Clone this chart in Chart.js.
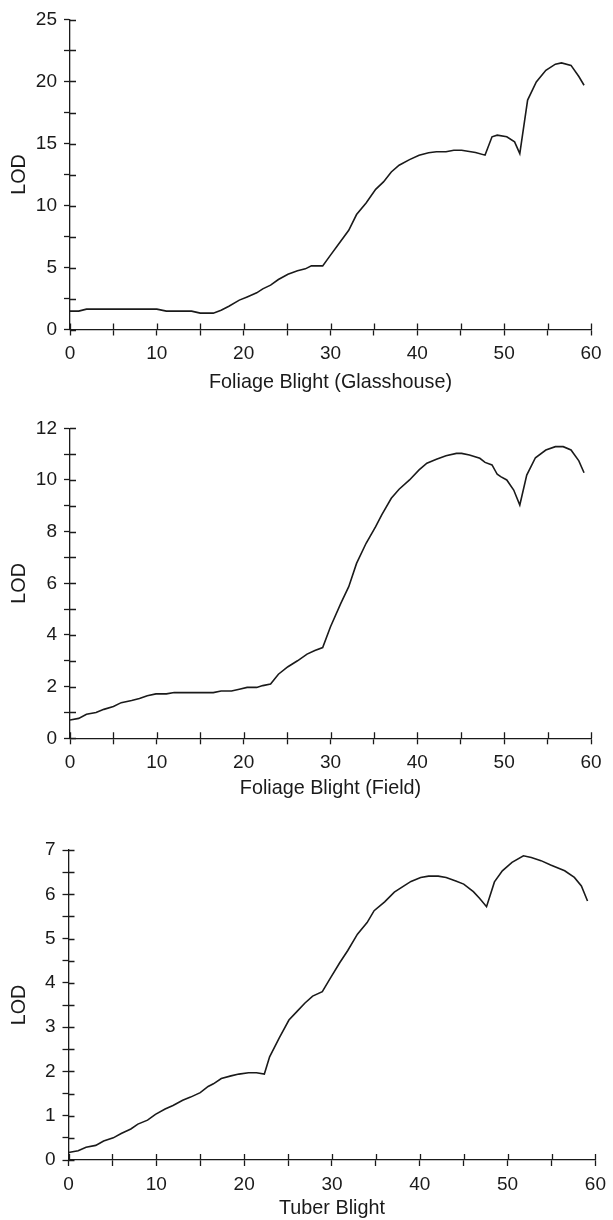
<!DOCTYPE html>
<html>
<head>
<meta charset="utf-8">
<script src="https://cdn.jsdelivr.net/npm/chart.js@4.4.1/dist/chart.umd.min.js"></script>
<style>
  html, body { margin: 0; padding: 0; background: #fff; }
  canvas { display: block; }
</style>
</head>
<body>
<canvas id="c1" width="613" height="400"></canvas>
<canvas id="c2" width="613" height="400"></canvas>
<canvas id="c3" width="613" height="420"></canvas>
<script>
// ---- Data ----
const glassX   = [0, 1, 1.9, 10, 11.1, 14, 15, 16.5, 17.4, 18.3, 19.5, 20.4, 21.5, 22.2, 23.1, 24, 25.1, 26.2, 27.1, 27.8, 29.1, 30, 30.9, 32.1, 33, 34.1, 35.2, 36.1, 37, 37.9, 39.1, 40.2, 41.3, 42.2, 43.3, 44.2, 45.1, 46.7, 47.8, 48.6, 49.2, 50.3, 51.2, 51.8, 52.7, 53.7, 54.8, 55.9, 56.6, 57.7, 58.6, 59.2];
const glassLOD = [1.48, 1.48, 1.64, 1.64, 1.48, 1.48, 1.32, 1.32, 1.56, 1.88, 2.37, 2.63, 2.96, 3.28, 3.58, 4.03, 4.46, 4.73, 4.89, 5.13, 5.13, 6.0, 6.85, 8.0, 9.27, 10.2, 11.3, 11.9, 12.7, 13.25, 13.7, 14.06, 14.25, 14.33, 14.33, 14.46, 14.46, 14.27, 14.06, 15.54, 15.67, 15.54, 15.13, 14.19, 18.5, 19.97, 20.9, 21.4, 21.5, 21.3, 20.4, 19.7];

const fieldX   = [0, 1, 1.9, 3, 3.9, 5, 5.9, 7.1, 8, 8.9, 9.9, 11.1, 12, 15, 16.5, 17.4, 18.6, 19.5, 20.4, 21.5, 22.2, 23.1, 24, 25.1, 26.2, 27.3, 28.2, 29.1, 30, 31.2, 32.1, 33, 34.1, 35.2, 35.9, 37, 37.9, 39.1, 40.2, 41.1, 42.2, 43.3, 44.5, 45.1, 46, 47.2, 47.8, 48.6, 49.2, 49.6, 50.3, 51.1, 51.8, 52.6, 53.6, 54.8, 55.9, 56.8, 57.7, 58.6, 59.2];
const fieldLOD = [0.71, 0.77, 0.93, 1.0, 1.12, 1.23, 1.38, 1.46, 1.54, 1.65, 1.72, 1.72, 1.77, 1.77, 1.77, 1.83, 1.83, 1.9, 1.97, 1.97, 2.04, 2.1, 2.48, 2.77, 3.0, 3.26, 3.4, 3.51, 4.32, 5.23, 5.87, 6.77, 7.55, 8.19, 8.65, 9.29, 9.64, 10.0, 10.39, 10.65, 10.8, 10.94, 11.03, 11.03, 10.97, 10.84, 10.68, 10.58, 10.22, 10.13, 10.0, 9.61, 9.03, 10.19, 10.86, 11.16, 11.29, 11.29, 11.16, 10.74, 10.28];

const tuberX   = [0, 1.1, 2, 3.1, 4, 5.1, 6, 7.1, 7.9, 9, 9.9, 11, 11.9, 13, 13.9, 15, 15.9, 16.5, 17.4, 18.5, 19.4, 20.5, 21.4, 22.3, 22.9, 24, 25.1, 26, 26.9, 27.8, 28.9, 29.8, 30.9, 31.8, 32.9, 34, 34.8, 36, 37.1, 38.2, 39, 40.1, 41, 42.1, 43, 44.1, 45, 46.1, 46.8, 47.6, 48.5, 49.4, 50.5, 51.8, 52.7, 53.8, 54.9, 56.5, 57.6, 58.4, 59.1];
const tuberLOD = [0.17, 0.21, 0.29, 0.33, 0.43, 0.50, 0.60, 0.70, 0.81, 0.90, 1.03, 1.15, 1.23, 1.35, 1.42, 1.52, 1.66, 1.72, 1.84, 1.90, 1.94, 1.97, 1.97, 1.94, 2.33, 2.76, 3.16, 3.35, 3.54, 3.70, 3.80, 4.10, 4.46, 4.73, 5.10, 5.36, 5.63, 5.83, 6.05, 6.19, 6.29, 6.38, 6.41, 6.41, 6.38, 6.30, 6.23, 6.06, 5.91, 5.72, 6.28, 6.53, 6.72, 6.87, 6.83, 6.76, 6.66, 6.53, 6.38, 6.19, 5.85];

const xTitles = ['Foliage Blight (Glasshouse)', 'Foliage Blight (Field)', 'Tuber Blight'];
const yTitle = 'LOD';
const yMax = [25, 12, 7];
const yStep = [2.5, 1, 0.5];
const yLabelEvery = [5, 2, 1];
const xMax = 60;
const xStep = 5;
const xLabelEvery = 10;

// ---- Rendering ----
const INK = '#1a1a1a';
const FONT = "'Liberation Sans', Arial, Helvetica, sans-serif";
const TICK = 6;

const innerTicks = {
  id: 'innerTicks',
  afterDraw(chart) {
    const ctx = chart.ctx, a = chart.chartArea;
    ctx.save();
    ctx.strokeStyle = INK;
    ctx.lineWidth = 1.3;
    ctx.beginPath();
    const xs = chart.scales.x, ys = chart.scales.y;
    xs.ticks.forEach(t => {
      const p = Math.round(xs.getPixelForValue(t.value)) + 0.5;
      ctx.moveTo(p, a.bottom); ctx.lineTo(p, a.bottom - TICK);
    });
    ys.ticks.forEach(t => {
      const p = Math.round(ys.getPixelForValue(t.value)) + 0.5;
      ctx.moveTo(a.left, p); ctx.lineTo(a.left + TICK, p);
    });
    ctx.stroke();
    ctx.restore();
  }
};

function makeChart(id, idx, xs, ys, geo) {
  const H = geo.H, W = 613;
  const pts = xs.map((x, i) => ({x: x, y: ys[i]}));
  new Chart(document.getElementById(id), {
    type: 'line',
    data: { datasets: [{
      data: pts,
      borderColor: INK,
      borderWidth: 1.6,
      pointRadius: 0,
      tension: 0,
      fill: false
    }]},
    plugins: [innerTicks],
    options: {
      responsive: false,
      animation: false,
      events: [],
      layout: { padding: { top: geo.top, right: W - geo.right, left: 0, bottom: 0 } },
      plugins: { legend: { display: false }, tooltip: { enabled: false } },
      scales: {
        x: {
          type: 'linear', min: 0, max: xMax,
          afterFit: s => { s.height = H - geo.bottom; },
          border: { display: true, color: INK, width: 1.3 },
          grid: { drawOnChartArea: false, drawTicks: true, tickLength: TICK, tickColor: INK, tickWidth: 1.3 },
          ticks: {
            stepSize: xStep, autoSkip: false, maxRotation: 0, padding: 7,
            color: INK, font: { family: FONT, size: 19 },
            callback: v => (v % xLabelEvery === 0 ? String(v) : '')
          },
          title: { display: true, text: xTitles[idx], color: INK,
                   font: { family: FONT, size: 19.8 }, padding: { top: 0, bottom: geo.titlePad } }
        },
        y: {
          type: 'linear', min: 0, max: yMax[idx],
          afterFit: s => { s.width = geo.left; },
          border: { display: true, color: INK, width: 1.3 },
          grid: { drawOnChartArea: false, drawTicks: true, tickLength: TICK, tickColor: INK, tickWidth: 1.3 },
          ticks: {
            stepSize: yStep[idx], autoSkip: false, padding: 7,
            color: INK, font: { family: FONT, size: 19 },
            callback: v => (Math.abs(v / yLabelEvery[idx] - Math.round(v / yLabelEvery[idx])) < 1e-9 ? String(v) : '')
          },
          title: { display: true, text: yTitle, color: INK,
                   font: { family: FONT, size: 19.8 }, padding: { top: 7.5, bottom: 0 } }
        }
      }
    }
  });
}

makeChart('c1', 0, glassX, glassLOD, { H: 400, left: 70, right: 591, top: 19.5, bottom: 329.5, titlePad: 5.5 });
makeChart('c2', 1, fieldX, fieldLOD, { H: 400, left: 70, right: 591, top: 28.3, bottom: 338.3, titlePad: 0 });
makeChart('c3', 2, tuberX, tuberLOD, { H: 420, left: 68.5, right: 601, top: 50, bottom: 360, titlePad: 0 });
</script>
</body>
</html>
